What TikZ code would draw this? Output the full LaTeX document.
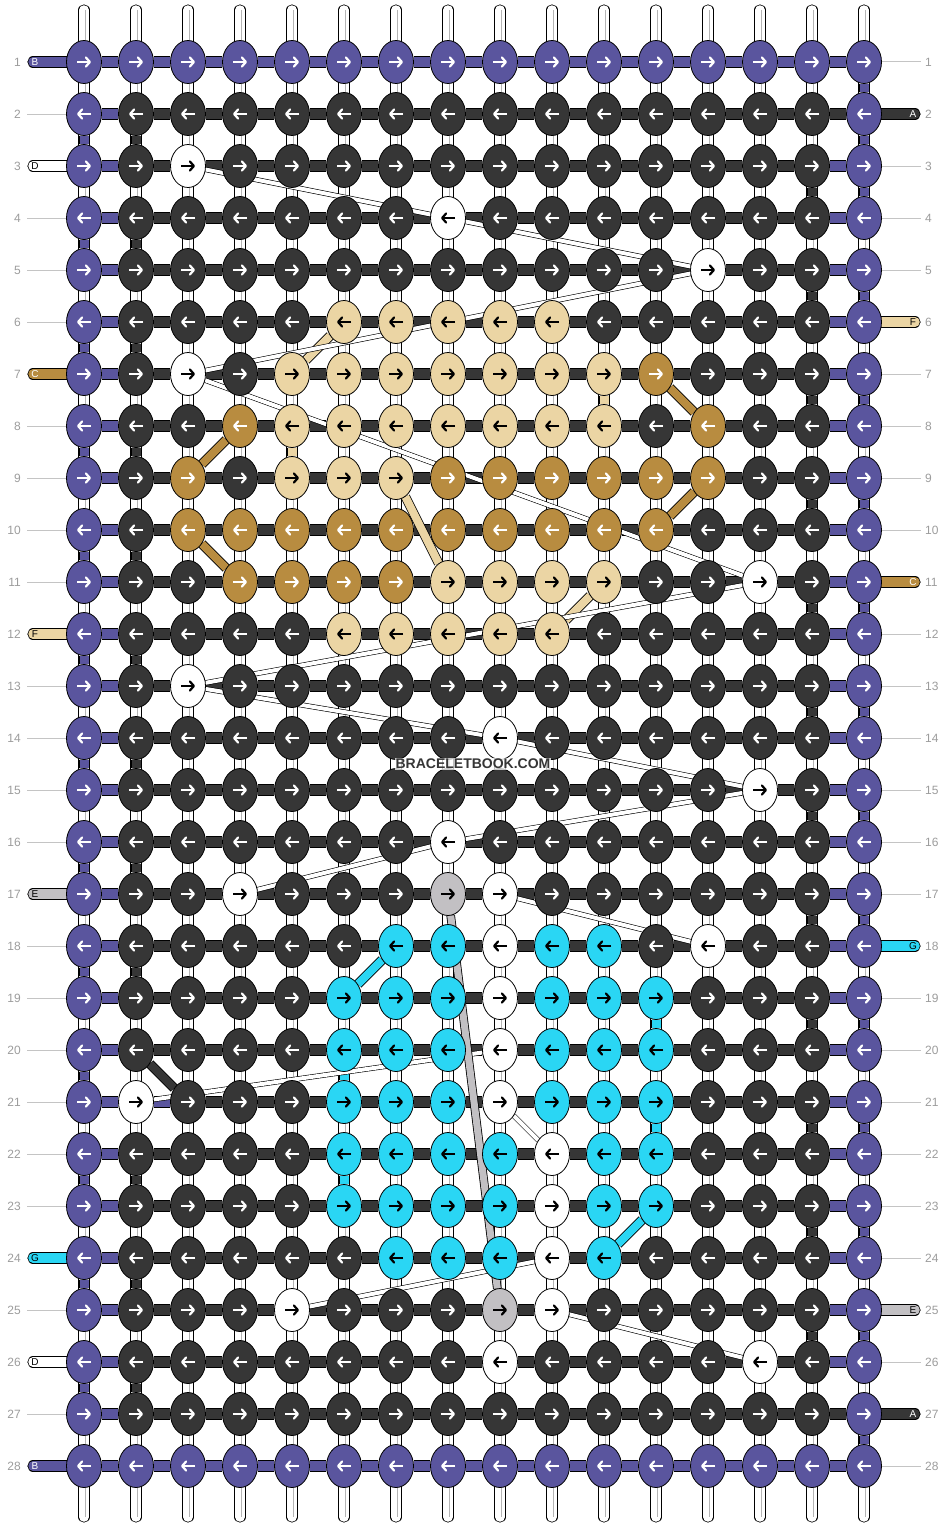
\documentclass[tikz,border=0pt]{standalone}
\usepackage{fontspec}
\setmainfont{Liberation Sans}
\usetikzlibrary{arrows.meta, shapes.geometric}
\definecolor{kpurple}{HTML}{5A559E}
\definecolor{kdark}{HTML}{363636}
\colorlet{kwhite}{white}
\definecolor{klight}{HTML}{EBD5A4}
\definecolor{ktan}{HTML}{B88C40}
\definecolor{kcyan}{HTML}{2AD6F4}
\definecolor{kgray}{HTML}{C2C0C3}
\definecolor{lblgray}{HTML}{9C9C9C}
\definecolor{tubegray}{HTML}{B4B4B4}
\def\arkpurple{white}
\def\arkdark{white}
\def\arktan{white}
\def\arkwhite{black}
\def\arklight{black}
\def\arkcyan{black}
\def\arkgray{black}
\pgfdeclarelayer{back}
\pgfdeclarelayer{mid}
\pgfsetlayers{back,mid,main}

\begin{document}
\begin{tikzpicture}[x=1pt, y=-1pt,
    knot/.style={ellipse, draw=black, line width=0.8pt, minimum width=35pt, minimum height=43pt, inner sep=0pt},
    arrw/.style={line width=2.2pt, -{Straight Barb[length=4pt, width=9pt, round]}},
    bar/.style={draw=black, line width=0.8pt, double=#1, double distance=10pt},
    link/.style={draw=black, line width=0.8pt, double=#1, double distance=9pt},
    strand/.style={draw=black, line width=0.8pt, double=#1, double distance=8pt},
    floatline/.style={draw=black, line width=0.6pt, double=white, double distance=4pt},
    warp/.style={draw=black, line width=0.8pt, double=white, double distance=9.5pt, line cap=round},
    warpline/.style={draw=tubegray, line width=0.7pt, double=white, double distance=1.6pt},
    tube/.style={draw=black, line width=0.8pt, double=#1, double distance=9.5pt, line cap=round},
    rowline/.style={draw=lblgray!60, line width=1pt},
    rowlbl/.style={text=lblgray, font=\fontsize{12}{14}\selectfont, inner sep=0pt},
    tubelbl/.style={font=\fontsize{10}{12}\selectfont, inner sep=0pt},
    wmark/.style={fill=white, fill opacity=0.75, text opacity=1, text=kdark, inner sep=1pt, font=\fontsize{14}{16}\selectfont\bfseries}]

\useasboundingbox (0,0) rectangle (948,1528);

\foreach \r/\a/\b/\k in {
    3/3/3/kwhite, 4/8/8/kwhite, 5/13/13/kwhite,
    6/6/10/klight,
    7/3/3/kwhite, 7/5/11/klight, 7/12/12/ktan,
    8/4/4/ktan, 8/5/11/klight, 8/13/13/ktan,
    9/3/3/ktan, 9/5/7/klight, 9/8/13/ktan,
    10/3/12/ktan,
    11/4/7/ktan, 11/8/11/klight, 11/14/14/kwhite,
    12/6/10/klight,
    13/3/3/kwhite, 14/9/9/kwhite, 15/14/14/kwhite, 16/8/8/kwhite,
    17/4/4/kwhite, 17/8/8/kgray, 17/9/9/kwhite,
    18/7/8/kcyan, 18/9/9/kwhite, 18/10/11/kcyan, 18/13/13/kwhite,
    19/6/8/kcyan, 19/9/9/kwhite, 19/10/12/kcyan,
    20/6/8/kcyan, 20/9/9/kwhite, 20/10/12/kcyan,
    21/2/2/kwhite, 21/6/8/kcyan, 21/9/9/kwhite, 21/10/12/kcyan,
    22/6/9/kcyan, 22/10/10/kwhite, 22/11/12/kcyan,
    23/6/9/kcyan, 23/10/10/kwhite, 23/11/12/kcyan,
    24/7/9/kcyan, 24/10/10/kwhite, 24/11/11/kcyan,
    25/5/5/kwhite, 25/9/9/kgray, 25/10/10/kwhite,
    26/9/9/kwhite, 26/14/14/kwhite}
  \foreach \c in {\a,...,\b}
    {\expandafter\xdef\csname kc\r-\c\endcsname{\k}}

\foreach \r in {1,...,28}
  \foreach \c in {1,...,16} {
    \def\k{kdark}
    \ifnum\c=1 \def\k{kpurple}\fi
    \ifnum\c=16 \def\k{kpurple}\fi
    \ifnum\r=1 \def\k{kpurple}\fi
    \ifnum\r=28 \def\k{kpurple}\fi
    \ifcsname kc\r-\c\endcsname \edef\k{\csname kc\r-\c\endcsname}\fi
    \edef\ac{\csname ar\k\endcsname}
    \node[knot, fill=\k] (k\r-\c) at ({32+52*\c}, {10+52*\r}) {};
    \ifodd\r
      \draw[arrw, draw=\ac] ([xshift=-7pt]k\r-\c.center) -- ([xshift=7pt]k\r-\c.center);
    \else
      \draw[arrw, draw=\ac] ([xshift=7pt]k\r-\c.center) -- ([xshift=-7pt]k\r-\c.center);
    \fi
  }

\foreach \r in {1,...,28} {
  \node[rowlbl, anchor=east] (la\r) at (21, {10+52*\r}) {\r};
  \node[rowlbl, anchor=west] (lb\r) at (925, {10+52*\r}) {\r};
}

\begin{pgfonlayer}{back}
  \foreach \c in {1,...,16} {
    \coordinate (t\c) at ({32+52*\c}, 10);
    \coordinate (b\c) at ({32+52*\c}, 1517);
    \draw[warp] (t\c) -- (b\c);
    \draw[warpline] (t\c) -- (b\c);
  }
  \foreach \r in {1,...,28} {
    \coordinate (ea\r) at (27, {10+52*\r});
    \coordinate (eb\r) at (921, {10+52*\r});
    \draw[rowline] (ea\r) -- (k\r-1);
    \draw[rowline] (k\r-16) -- (eb\r);
  }
  \foreach \r/\k/\t/\tc in {1/kpurple/B/white, 3/kwhite/D/black, 7/ktan/C/white, 12/klight/F/black,
                            17/kgray/E/black, 24/kcyan/G/black, 26/kwhite/D/black, 28/kpurple/B/white} {
    \coordinate (ta\r) at (33, {10+52*\r});
    \draw[tube=\k] (ta\r) -- (k\r-1);
    \node[tubelbl, text=\tc] (na\r) at (35, {10+52*\r}) {\t};
  }
  \foreach \r/\k/\t/\tc in {2/kdark/A/white, 6/klight/F/black, 11/ktan/C/white,
                            18/kcyan/G/black, 25/kgray/E/black, 27/kdark/A/white} {
    \coordinate (tb\r) at (915, {10+52*\r});
    \draw[tube=\k] (k\r-16) -- (tb\r);
    \node[tubelbl, text=\tc] (nb\r) at (913, {10+52*\r}) {\t};
  }
\end{pgfonlayer}

\begin{pgfonlayer}{mid}
  \foreach \r in {2,...,27}
    \foreach \c [count=\d from 3] in {2,...,14}
      \draw[bar=kdark] (k\r-\c) -- (k\r-\d);
  \foreach \r in {1,28}
    \foreach \c [count=\d from 2] in {1,...,15}
      \draw[bar=kpurple] (k\r-\c) -- (k\r-\d);
  \foreach \r in {2,...,27}
    \draw[bar=kpurple] (k\r-1) -- (k\r-2);
  \foreach \r in {3,...,26}
    \draw[bar=kpurple] (k\r-15) -- (k\r-16);
  \draw[bar=kdark] (k2-15) -- (k2-16);
  \draw[bar=kdark] (k27-15) -- (k27-16);
  \draw[bar=kpurple] (k21-2) -- (k21-3);

  \foreach \r in {2,4,...,26} {
    \pgfmathtruncatemacro\s{\r+1}
    \draw[link=kpurple] (k\r-1) -- (k\s-1);
  }
  \foreach \r in {2,4,...,18,22,24,26} {
    \pgfmathtruncatemacro\s{\r+1}
    \draw[link=kdark] (k\r-2) -- (k\s-2);
  }
  \foreach \r in {3,5,...,25} {
    \pgfmathtruncatemacro\s{\r+1}
    \draw[link=kdark] (k\r-15) -- (k\s-15);
  }
  \foreach \r in {1,2,3,5,...,27} {
    \pgfmathtruncatemacro\s{\r+1}
    \draw[link=kpurple] (k\r-16) -- (k\s-16);
  }
  \foreach \r/\c/\k in {7/11/klight, 8/5/klight, 19/12/kcyan, 21/12/kcyan, 20/6/kcyan, 22/6/kcyan} {
    \pgfmathtruncatemacro\s{\r+1}
    \draw[link=\k] (k\r-\c) -- (k\s-\c);
  }

  \draw[strand=ktan] (k7-12) -- (k8-13);
  \draw[strand=ktan] (k8-4) -- (k9-3);
  \draw[strand=ktan] (k10-3) -- (k11-4);
  \draw[strand=ktan] (k9-13) -- (k10-12);
  \draw[strand=klight] (k6-6) -- (k7-5);
  \draw[strand=klight] (k9-7) -- (k11-8);
  \draw[strand=klight] (k11-11) -- (k12-10);
  \draw[strand=kcyan] (k18-7) -- (k19-6);
  \draw[strand=kcyan] (k23-12) -- (k24-11);
  \draw[strand=kdark] (k20-2) -- (k21-3);

  \draw[floatline] (k3-3) -- (k4-8);
  \draw[floatline] (k4-8) -- (k5-13);
  \draw[floatline] (k5-13) -- (k7-3);
  \draw[floatline] (k7-3) -- (k11-14);
  \draw[floatline] (k11-14) -- (k13-3);
  \draw[floatline] (k13-3) -- (k14-9);
  \draw[floatline] (k14-9) -- (k15-14);
  \draw[floatline] (k15-14) -- (k16-8);
  \draw[floatline] (k16-8) -- (k17-4);
  \draw[floatline] (k17-9) -- (k18-13);
  \draw[floatline] (k20-9) -- (k21-2);
  \draw[floatline] (k21-9) -- (k22-10);
  \draw[floatline] (k24-10) -- (k25-5);
  \draw[floatline] (k25-10) -- (k26-14);

  \draw[strand=kgray, double distance=7pt] (k17-8) -- (k25-9);
\end{pgfonlayer}

\node[wmark] (wm) at (473, 764) {BRACELETBOOK.COM};
\end{tikzpicture}
\end{document}
